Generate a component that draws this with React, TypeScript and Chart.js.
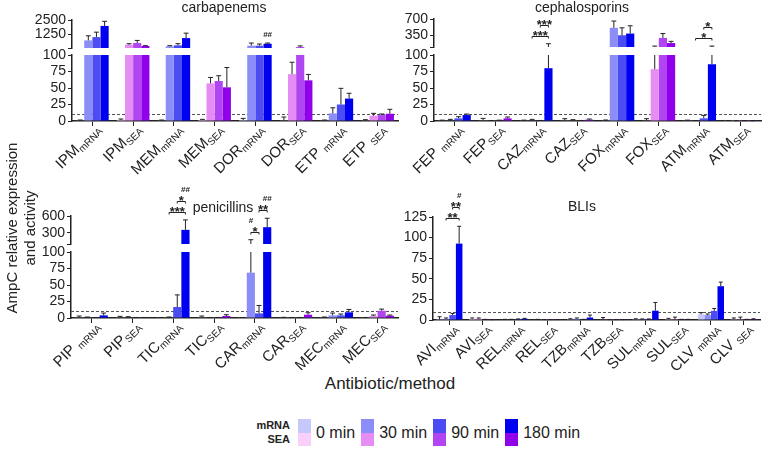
import React, { useEffect, useRef } from 'react';
import { Chart, registerables } from 'chart.js';

Chart.register(...registerables);

const FONT = "'Liberation Sans', Arial, Helvetica, sans-serif";
const INK = '#222222';

const TIMEPOINTS = ['0 min', '30 min', '90 min', '180 min'];
const MRNA_COLORS = ['#c6c8fb', '#8b8ef6', '#4b4cf2', '#0000f0'];
const SEA_COLORS = ['#f9d0f9', '#e58df2', '#b145f2', '#9100ea'];
const THRESHOLD = 10;

// ---- carbapenems ----
const carbaLabels = [['IPM', 'mRNA'], ['IPM', 'SEA'], ['MEM', 'mRNA'], ['MEM', 'SEA'], ['DOR', 'mRNA'], ['DOR', 'SEA'], ['ETP ', 'mRNA'], ['ETP ', 'SEA']];
const carbaMean0 = [1, 1.5, 1, 1.5, 1.5, 1, 1, 1];
const carbaErr0 = [0.5, 1.5, 0.5, 1, 2.5, 5, 0.5, 1];
const carbaMean30 = [752, 385, 244, 57, 300, 71, 11.6, 8];
const carbaErr30 = [394, 85, 56, 9, 226, 18, 8.4, 3.6];
const carbaMean90 = [1034, 526, 329, 60.6, 300, 190, 25, 9];
const carbaErr90 = [423, 224, 141, 8, 140, 90, 24.5, 1.6];
const carbaMean180 = [1992, 272, 950, 51, 470, 61.6, 34, 11];
const carbaErr180 = [395, 28, 422, 30, 56, 9, 8, 6.7];
const carbaUpperTicks = [100, 1250, 2500];

// ---- cephalosporins ----
const cephLabels = [['FEP ', 'mRNA'], ['FEP', 'SEA'], ['CAZ', 'mRNA'], ['CAZ', 'SEA'], ['FOX', 'mRNA'], ['FOX', 'SEA'], ['ATM', 'mRNA'], ['ATM', 'SEA']];
const cephMean0 = [1, 1, 1, 1, 1, 1, 1, 0.5];
const cephErr0 = [0.3, 3, 0.3, 2.5, 0.5, 2.5, 0.3, 0.3];
const cephMean30 = [1, 0.5, 1, 1, 512, 78.5, 0.5, 0.3];
const cephErr30 = [1.5, 0.3, 1.5, 1, 144, 41.5, 0.3, 0.2];
const cephMean90 = [4, 1, 0.5, 0.5, 352, 294, 4, 0.3];
const cephErr90 = [2.5, 0.3, 0.3, 0.3, 159, 94, 4.5, 0.2];
const cephMean180 = [9, 4, 80, 2, 388, 185, 86, 0.3];
const cephErr180 = [1.5, 2, 90, 1, 167, 36, 34, 0.2];
const cephUpperTicks = [100, 350, 700];

// ---- penicillins ----
const penLabels = [['PIP ', 'mRNA'], ['PIP', 'SEA'], ['TIC', 'mRNA'], ['TIC', 'SEA'], ['CAR', 'mRNA'], ['CAR', 'SEA'], ['MEC', 'mRNA'], ['MEC', 'SEA']];
const penMean0 = [1, 1, 0.5, 1, 0.5, 0.5, 0.5, 0.5];
const penErr0 = [2, 1.5, 0.3, 2, 0.3, 0.5, 1, 0.3];
const penMean30 = [1, 1, 1, 0.5, 68.7, 0.5, 4, 3];
const penErr30 = [0.5, 1, 0.5, 0.3, 108, 0.3, 3.5, 1.5];
const penMean90 = [0.5, 0.5, 16.7, 0.5, 7, 0.5, 4, 11];
const penErr90 = [0.3, 0.3, 18.3, 0.3, 12, 0.3, 2, 2.5];
const penMean180 = [4, 0.5, 353, 3, 400, 5, 8.6, 3.5];
const penErr180 = [3.5, 0.3, 177, 2, 160, 3, 4.4, 1];
const penUpperTicks = [100, 300, 600];

// ---- beta-lactamase inhibitors ----
const bliLabels = [['AVI', 'mRNA'], ['AVI', 'SEA'], ['REL', 'mRNA'], ['REL', 'SEA'], ['TZB', 'mRNA'], ['TZB', 'SEA'], ['SUL', 'mRNA'], ['SUL', 'SEA'], ['CLV ', 'mRNA'], ['CLV ', 'SEA']];
const bliMean0 = [1, 1.5, 0.5, 0.5, 1, 0.5, 1, 1, 6.9, 1];
const bliErr0 = [3, 1, 0.3, 0.3, 0.5, 2.5, 0.5, 1, 2, 1.5];
const bliMean30 = [1.5, 1.5, 0.5, 0.3, 1.5, 0.3, 1, 1, 6, 1];
const bliErr30 = [1, 1, 0.3, 0.2, 1, 0.2, 0.3, 2.5, 1.3, 2.5];
const bliMean90 = [6, 0.5, 1, 0.3, 0.5, 0.3, 1, 0.5, 11, 0.5];
const bliErr90 = [2, 0.3, 0.3, 0.2, 0.3, 0.2, 0.3, 0.3, 3, 0.3];
const bliMean180 = [92.7, 0.3, 1.5, 0.3, 3, 0.3, 11.3, 0.5, 41, 1];
const bliErr180 = [21, 0.2, 0.5, 0.2, 3, 0.2, 10, 0.3, 5, 0.5];

// significance marks: brackets between two time points of one category, and
// single marks ('#') above one bar; drawn in order, stacking upwards
const carbaMarks = [{ type: 'mark', cat: 4, bar: 3, text: '##' }];
const cephMarks = [
  { type: 'bracket', cat: 2, from: 1, to: 3, text: '***' },
  { type: 'bracket', cat: 2, from: 2, to: 3, text: '***' },
  { type: 'bracket', cat: 6, from: 1, to: 3, text: '*' },
  { type: 'bracket', cat: 6, from: 2, to: 3, text: '*' },
];
const penMarks = [
  { type: 'bracket', cat: 2, from: 1, to: 3, text: '***' },
  { type: 'bracket', cat: 2, from: 2, to: 3, text: '*' },
  { type: 'mark', cat: 2, bar: 3, text: '##' },
  { type: 'bracket', cat: 4, from: 1, to: 2, text: '*' },
  { type: 'mark', cat: 4, bar: 1, text: '#' },
  { type: 'bracket', cat: 4, from: 2, to: 3, text: '**' },
  { type: 'mark', cat: 4, bar: 3, text: '##' },
];
const bliMarks = [
  { type: 'bracket', cat: 0, from: 1, to: 3, text: '**' },
  { type: 'bracket', cat: 0, from: 2, to: 3, text: '**' },
  { type: 'mark', cat: 0, bar: 3, text: '#' },
];

type Box = { left: number; top: number; width: number; height: number };
type Area = { left: number; right: number; top: number; bottom: number };
type Panel = {
  title: string;
  titleAt: [number, number];
  labels: string[][];
  means: number[][];
  errs: number[][];
  lowMax: number;
  upperTicks?: number[];
  weights?: number[];
  marks: any[];
  box: Box;
  area: Area;
};

const PANELS: Panel[] = [
  {
    title: 'carbapenems', titleAt: [224, 8],
    labels: carbaLabels,
    means: [carbaMean0, carbaMean30, carbaMean90, carbaMean180],
    errs: [carbaErr0, carbaErr30, carbaErr90, carbaErr180],
    lowMax: 100, upperTicks: carbaUpperTicks, weights: [28, 7, 66], marks: carbaMarks,
    box: { left: 0, top: 0, width: 410, height: 180 },
    area: { left: 72, right: 398, top: 20, bottom: 121 },
  },
  {
    title: 'cephalosporins', titleAt: [582, 8],
    labels: cephLabels,
    means: [cephMean0, cephMean30, cephMean90, cephMean180],
    errs: [cephErr0, cephErr30, cephErr90, cephErr180],
    lowMax: 100, upperTicks: cephUpperTicks, weights: [28, 8, 66], marks: cephMarks,
    box: { left: 390, top: 0, width: 373, height: 180 },
    area: { left: 434, right: 761, top: 19, bottom: 121 },
  },
  {
    title: 'penicillins', titleAt: [223, 208],
    labels: penLabels,
    means: [penMean0, penMean30, penMean90, penMean180],
    errs: [penErr0, penErr30, penErr90, penErr180],
    lowMax: 100, upperTicks: penUpperTicks, weights: [28, 8, 66], marks: penMarks,
    box: { left: 0, top: 178, width: 410, height: 192 },
    area: { left: 71, right: 398, top: 216, bottom: 318 },
  },
  {
    title: 'BLIs', titleAt: [582, 207],
    labels: bliLabels,
    means: [bliMean0, bliMean30, bliMean90, bliMean180],
    errs: [bliErr0, bliErr30, bliErr90, bliErr180],
    lowMax: 125, marks: bliMarks,
    box: { left: 390, top: 178, width: 373, height: 192 },
    area: { left: 433, right: 760, top: 217, bottom: 320 },
  },
];

const Y_W = 40;
const X_H = 6;

function buildChart(canvas: HTMLCanvasElement, p: Panel) {
  const broken = !!p.upperTicks;
  const colorsFor = (s: number) => p.labels.map((l) => (l[1] === 'mRNA' ? MRNA_COLORS : SEA_COLORS)[s]);
  const barBase = { borderWidth: 0, categoryPercentage: 0.8, barPercentage: 1 };

  const datasets: any[] = p.means.map((vals, s) => ({
    ...barBase,
    label: TIMEPOINTS[s],
    data: vals.map((v) => Math.min(v, p.lowMax)),
    yAxisID: 'yLow',
    stack: 't' + s,
    backgroundColor: colorsFor(s),
  }));
  if (broken) {
    p.means.forEach((vals, s) =>
      datasets.push({
        ...barBase,
        label: TIMEPOINTS[s] + ' (upper)',
        data: vals.map((v) => (v > p.lowMax ? [p.lowMax, v] : null)),
        yAxisID: 'yHigh',
        stack: 't' + s,
        backgroundColor: colorsFor(s),
      })
    );
  }

  const fixWidth = (s: any) => { s.width = Y_W; };
  const tickFont = { size: 14, family: FONT };
  const scales: any = {
    x: {
      type: 'category',
      offset: true,
      grid: { display: true, drawOnChartArea: false, drawTicks: true, tickLength: 5, offset: false, color: INK, lineWidth: 1 },
      border: { display: true, color: INK, width: 1.5 },
      ticks: { display: false },
      afterFit: (s: any) => { s.height = X_H; },
    },
    yLow: {
      type: 'linear', position: 'left', min: 0, max: p.lowMax, stacked: false, weight: 1,
      ticks: { stepSize: 25, autoSkip: false, color: INK, font: tickFont, padding: 2, callback: (v: any) => String(v) },
      grid: { drawOnChartArea: false, tickLength: 4, color: INK, lineWidth: 1 },
      border: { color: INK, width: 1.5 },
      afterFit: fixWidth,
    },
  };
  if (broken) {
    const hi = p.upperTicks as number[];
    const w = p.weights as number[];
    scales.yLow.stack = 'v';
    scales.yLow.stackWeight = w[2];
    scales.yGap = {
      type: 'linear', position: 'left', stack: 'v', stackWeight: w[1], weight: 2,
      ticks: { display: false }, grid: { display: false }, border: { display: false },
      afterFit: fixWidth,
    };
    scales.yHigh = {
      type: 'linear', position: 'left', stack: 'v', stackWeight: w[0], weight: 3,
      min: hi[0], max: hi[hi.length - 1], stacked: false,
      afterBuildTicks: (s: any) => { s.ticks = hi.map((value) => ({ value })); },
      ticks: { autoSkip: false, color: INK, font: tickFont, padding: 2, callback: (v: any) => (v === hi[0] ? '' : String(v)) },
      grid: { drawOnChartArea: false, tickLength: 4, color: INK, lineWidth: 1 },
      border: { color: INK, width: 1.5 },
      afterFit: fixWidth,
    };
  }

  const { box, area } = p;
  const padding = {
    left: area.left - box.left - Y_W,
    right: box.left + box.width - area.right,
    top: area.top - box.top,
    bottom: box.top + box.height - area.bottom - X_H,
  };

  const pixelOf = (chart: any, v: number) => {
    const hiScale = chart.scales.yHigh;
    return hiScale && v > p.lowMax ? hiScale.getPixelForValue(v) : chart.scales.yLow.getPixelForValue(v);
  };

  const decorations = {
    id: 'panelDecorations',
    beforeDatasetsDraw(chart: any) {
      const { ctx, chartArea } = chart;
      const y = chart.scales.yLow.getPixelForValue(THRESHOLD);
      ctx.save();
      ctx.strokeStyle = '#555555';
      ctx.lineWidth = 1;
      ctx.setLineDash([3, 2]);
      ctx.beginPath();
      ctx.moveTo(chartArea.left, Math.round(y) + 0.5);
      ctx.lineTo(chartArea.right, Math.round(y) + 0.5);
      ctx.stroke();
      ctx.restore();
    },
    afterDatasetsDraw(chart: any) {
      const { ctx } = chart;
      const lo = chart.scales.yLow;
      const hiScale = chart.scales.yHigh;
      ctx.save();
      ctx.strokeStyle = INK;
      ctx.lineWidth = 1;

      // error bars (upper half only)
      p.means.forEach((vals, s) => {
        const meta = chart.getDatasetMeta(s);
        meta.data.forEach((bar: any, i: number) => {
          const v = vals[i];
          const top = v + p.errs[s][i];
          const x = bar.x;
          const half = bar.width * 0.3;
          ctx.beginPath();
          if (hiScale && v <= p.lowMax && top > p.lowMax) {
            ctx.moveTo(x, lo.getPixelForValue(v));
            ctx.lineTo(x, lo.getPixelForValue(p.lowMax));
            ctx.moveTo(x, hiScale.getPixelForValue(hiScale.min));
            ctx.lineTo(x, hiScale.getPixelForValue(top));
          } else {
            ctx.moveTo(x, pixelOf(chart, v));
            ctx.lineTo(x, pixelOf(chart, top));
          }
          const yc = pixelOf(chart, top);
          ctx.moveTo(x - half, yc);
          ctx.lineTo(x + half, yc);
          ctx.stroke();
        });
      });

      // significance brackets and marks
      const barX = (cat: number, s: number) => chart.getDatasetMeta(s).data[cat].x;
      const occupied = new Map<string, number>();
      const occ = (cat: number, s: number) => {
        const k = cat + ':' + s;
        if (occupied.has(k)) return occupied.get(k) as number;
        return pixelOf(chart, p.means[s][cat] + p.errs[s][cat]) - 8;
      };
      ctx.fillStyle = INK;
      ctx.textAlign = 'center';
      p.marks.forEach((m: any) => {
        if (m.type === 'bracket') {
          let y = Infinity;
          for (let s = m.from; s <= m.to; s++) y = Math.min(y, occ(m.cat, s));
          y = Math.round(y) + 0.5;
          const x1 = barX(m.cat, m.from);
          const x2 = barX(m.cat, m.to);
          ctx.beginPath();
          ctx.moveTo(x1, y + 2);
          ctx.lineTo(x1, y);
          ctx.lineTo(x2, y);
          ctx.lineTo(x2, y + 2);
          ctx.stroke();
          ctx.font = `bold 13px ${FONT}`;
          ctx.textBaseline = 'alphabetic';
          ctx.fillText(m.text, (x1 + x2) / 2, y + 3);
          for (let s = m.from; s <= m.to; s++) occupied.set(m.cat + ':' + s, y - 12);
        } else {
          const y = occ(m.cat, m.bar);
          ctx.font = `bold 8px ${FONT}`;
          ctx.textBaseline = 'middle';
          ctx.fillText(m.text, barX(m.cat, m.bar), y);
          occupied.set(m.cat + ':' + m.bar, y - 8);
        }
      });
      ctx.restore();
    },
    afterDraw(chart: any) {
      const { ctx } = chart;
      const xs = chart.scales.x;
      ctx.save();
      ctx.fillStyle = INK;
      // panel title
      ctx.font = `14px ${FONT}`;
      ctx.textAlign = 'center';
      ctx.textBaseline = 'middle';
      ctx.fillText(p.title, p.titleAt[0] - box.left, p.titleAt[1] - box.top);
      // rotated category labels with subscripted method
      p.labels.forEach(([main, sub], i) => {
        const x = xs.getPixelForTick(i);
        ctx.save();
        ctx.translate(x + 1, xs.top + 1);
        ctx.rotate(-Math.PI / 4);
        ctx.textAlign = 'left';
        ctx.textBaseline = 'alphabetic';
        ctx.font = `15px ${FONT}`;
        const wm = ctx.measureText(main).width;
        ctx.font = `10px ${FONT}`;
        const ws = ctx.measureText(sub).width;
        ctx.font = `15px ${FONT}`;
        ctx.fillText(main, -(wm + ws), 11);
        ctx.font = `10px ${FONT}`;
        ctx.fillText(sub, -ws, 14);
        ctx.restore();
      });
      ctx.restore();
    },
  };

  return new Chart(canvas, {
    type: 'bar',
    data: { labels: p.labels.map((l) => l.join('')), datasets },
    options: {
      animation: false,
      responsive: false,
      devicePixelRatio: 1,
      layout: { padding },
      plugins: { legend: { display: false }, title: { display: false }, tooltip: { enabled: false } },
      scales,
    },
    plugins: [decorations],
  } as any);
}

function PanelChart({ panel }: { panel: Panel }) {
  const ref = useRef<HTMLCanvasElement>(null);
  useEffect(() => {
    const chart = buildChart(ref.current as HTMLCanvasElement, panel);
    return () => chart.destroy();
  }, [panel]);
  const { box } = panel;
  return (
    <canvas
      ref={ref}
      width={box.width}
      height={box.height}
      style={{ position: 'absolute', left: box.left, top: box.top, width: box.width, height: box.height }}
    />
  );
}

export default function App() {
  return (
    <div
      style={{
        position: 'fixed', left: 0, top: 0, width: 763, height: 449,
        background: '#ffffff', overflow: 'hidden', fontFamily: FONT, color: INK,
      }}
    >
      {PANELS.map((p) => (
        <PanelChart key={p.title} panel={p} />
      ))}

      {/* shared y-axis title */}
      <div
        style={{
          position: 'absolute', left: 21 - 110, top: 228 - 18, width: 220, height: 36,
          transform: 'rotate(-90deg)', textAlign: 'center', fontSize: 15, lineHeight: '18px',
          whiteSpace: 'nowrap',
        }}
      >
        AmpC relative expression
        <br />
        and activity
      </div>

      {/* shared x-axis title */}
      <div
        style={{
          position: 'absolute', left: 290, top: 374, width: 200, textAlign: 'center',
          fontSize: 17, lineHeight: '20px',
        }}
      >
        Antibiotic/method
      </div>

      {/* legend */}
      <div
        style={{
          position: 'absolute', left: 230, width: 60, top: 419, textAlign: 'right',
          fontSize: 11, fontWeight: 'bold', lineHeight: '13.5px',
        }}
      >
        mRNA
        <br />
        SEA
      </div>
      <div style={{ position: 'absolute', left: 298, top: 419, display: 'flex', alignItems: 'center', height: 27 }}>
        {TIMEPOINTS.map((t, i) => (
          <React.Fragment key={t}>
            <div style={{ width: 13, height: 27, marginRight: 5, display: 'flex', flexDirection: 'column', flexShrink: 0 }}>
              <div style={{ height: 13.5, background: MRNA_COLORS[i] }} />
              <div style={{ height: 13.5, background: SEA_COLORS[i] }} />
            </div>
            <div style={{ fontSize: 16, lineHeight: '20px', marginRight: 6, whiteSpace: 'nowrap' }}>{t}</div>
          </React.Fragment>
        ))}
      </div>
    </div>
  );
}
